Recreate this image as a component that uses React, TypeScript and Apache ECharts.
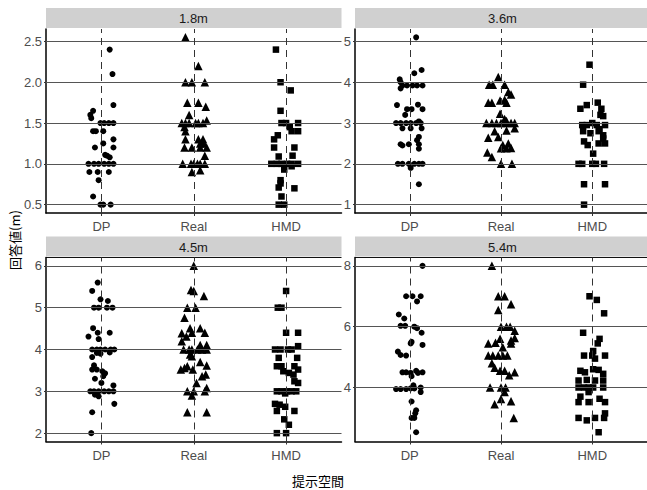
import React, { useEffect, useRef } from 'react';
import * as echarts from 'echarts';

// Categories, facet titles, tick values
const categories = ['DP', 'Real', 'HMD'];
const panelTitles = ['1.8m', '3.6m', '4.5m', '5.4m'];
const yTicks = [
  [0.5, 1.0, 1.5, 2.0, 2.5],
  [1, 2, 3, 4, 5],
  [2, 3, 4, 5, 6],
  [4, 6, 8],
];
const yRanges = [
  [0.3975, 2.6525],
  [0.795, 5.305],
  [1.8, 6.2],
  [2.225, 8.275],
];

// Data: [jitter offset (category units), response value]
const d18DP = [[0.09,2.4],[0.12,2.1],[0.13,1.72],[-0.09,1.65],[-0.12,1.6],[-0.11,1.56],[-0.01,1.5],[0.03,1.5],[0.08,1.5],[0.13,1.5],[-0.09,1.4],[-0.06,1.4],[0.02,1.4],[0.13,1.3],[0.02,1.25],[-0.07,1.2],[0.13,1.2],[0.04,1.11],[0.06,1.1],[0.09,1.08],[-0.14,1.0],[-0.08,1.0],[-0.03,1.0],[0.03,1.0],[0.08,1.0],[0.13,1.0],[-0.13,0.9],[-0.04,0.9],[0.08,0.9],[-0.03,0.8],[-0.09,0.6],[-0.01,0.5],[0.02,0.5],[0.1,0.5]];
const d18Real = [[-0.09,2.55],[0.05,2.2],[-0.09,2.0],[-0.02,2.0],[0.12,2.0],[-0.07,1.75],[0.05,1.75],[0.13,1.7],[-0.05,1.6],[-0.13,1.5],[-0.09,1.5],[-0.05,1.5],[0.02,1.5],[0.05,1.5],[0.1,1.5],[0.14,1.53],[-0.1,1.45],[-0.09,1.4],[-0.09,1.3],[0.05,1.3],[0.1,1.3],[0.07,1.25],[0.11,1.25],[-0.1,1.2],[-0.02,1.2],[0.07,1.2],[0.14,1.2],[0.12,1.1],[-0.12,1.0],[-0.03,1.0],[0.0,1.0],[0.04,1.0],[0.07,1.0],[0.12,1.0],[-0.02,0.9],[0.07,0.92]];
const d18HMD = [[-0.11,2.4],[-0.06,2.0],[0.05,1.9],[-0.06,1.65],[-0.05,1.5],[0.0,1.5],[0.13,1.5],[0.04,1.45],[0.06,1.4],[0.13,1.4],[-0.09,1.35],[-0.13,1.3],[-0.13,1.2],[0.09,1.2],[-0.08,1.09],[0.07,1.1],[-0.16,1.0],[-0.1,1.0],[-0.05,1.0],[0.01,1.0],[0.06,1.0],[0.13,1.0],[-0.02,0.93],[0.06,0.97],[-0.06,0.8],[-0.06,0.76],[-0.08,0.71],[0.09,0.7],[-0.05,0.6],[-0.08,0.5],[-0.02,0.5]];

const d36DP = [[0.07,5.1],[0.13,4.3],[0.05,4.22],[-0.11,4.07],[-0.1,4.0],[-0.08,3.92],[-0.03,3.92],[0.03,3.92],[0.08,3.92],[0.14,3.92],[-0.1,3.85],[-0.14,3.44],[0.09,3.45],[-0.03,3.34],[0.02,3.34],[0.14,3.34],[-0.05,3.2],[-0.15,3.0],[-0.1,3.0],[-0.04,3.0],[0.01,3.0],[0.07,3.0],[0.12,3.0],[0.1,3.04],[-0.08,2.87],[0.01,2.87],[0.13,2.87],[0.1,2.66],[0.08,2.58],[-0.1,2.48],[-0.01,2.48],[0.1,2.48],[-0.08,2.45],[0.1,2.37],[-0.13,2.0],[-0.08,2.0],[-0.01,2.0],[0.05,2.0],[0.1,2.0],[0.14,2.0],[0.01,1.9],[0.1,1.5]];
const d36Real = [[-0.03,4.13],[-0.13,3.94],[-0.09,3.94],[0.04,3.94],[0.08,3.76],[0.11,3.7],[-0.14,3.5],[-0.1,3.5],[-0.01,3.55],[0.04,3.57],[0.06,3.5],[-0.01,3.23],[0.04,3.1],[0.06,3.05],[-0.16,3.0],[-0.1,3.0],[-0.05,3.0],[0.0,3.0],[0.06,3.0],[0.11,3.0],[0.15,3.0],[-0.14,2.64],[-0.07,2.8],[-0.03,2.66],[0.06,2.82],[0.15,2.87],[0.02,2.46],[0.08,2.5],[0.11,2.39],[0.0,2.38],[0.06,2.38],[-0.15,2.28],[-0.1,2.17],[0.0,2.0],[0.12,2.0]];
const d36HMD = [[-0.03,4.43],[-0.1,3.94],[-0.13,3.35],[-0.06,3.44],[0.06,3.5],[0.1,3.35],[0.12,3.17],[0.09,3.2],[-0.11,2.95],[-0.06,2.95],[0.05,2.95],[0.14,2.95],[0.0,3.0],[-0.1,2.8],[0.07,2.8],[0.08,2.85],[-0.02,2.75],[0.12,2.7],[0.12,2.62],[-0.09,2.55],[-0.05,2.46],[0.07,2.5],[0.14,2.5],[0.01,2.25],[-0.15,2.0],[-0.11,2.0],[0.0,2.0],[0.04,2.0],[0.13,2.0],[-0.09,1.5],[0.14,1.5],[-0.09,1.0]];

const d45DP = [[-0.04,5.6],[-0.1,5.4],[-0.01,5.2],[0.07,5.16],[-0.08,5.0],[-0.03,5.0],[0.06,5.0],[0.12,5.0],[-0.09,4.51],[-0.04,4.4],[0.09,4.4],[-0.14,4.31],[-0.03,4.25],[-0.1,4.0],[-0.05,4.0],[-0.01,4.0],[0.04,4.0],[0.1,4.0],[0.14,4.0],[-0.05,3.92],[-0.01,3.9],[0.09,3.93],[-0.1,3.82],[-0.08,3.62],[-0.1,3.52],[-0.05,3.52],[0.01,3.48],[0.04,3.43],[0.02,3.36],[-0.07,3.3],[0.0,3.2],[0.13,3.14],[-0.12,3.0],[-0.08,3.0],[-0.03,3.0],[0.03,3.0],[0.08,3.0],[0.13,3.0],[-0.07,2.92],[-0.03,2.88],[0.14,2.7],[-0.1,2.5],[-0.11,2.0]];
const d45Real = [[0.0,6.0],[-0.03,5.42],[0.0,5.4],[0.11,5.28],[-0.07,5.0],[0.02,5.0],[-0.1,4.76],[-0.04,4.51],[0.07,4.51],[-0.13,4.39],[-0.08,4.31],[-0.13,4.2],[-0.02,4.4],[0.12,4.4],[-0.11,4.0],[-0.05,4.0],[-0.02,4.0],[0.04,4.0],[0.09,4.0],[0.14,4.0],[0.07,4.11],[0.14,4.11],[-0.04,3.88],[-0.02,3.84],[0.07,3.7],[-0.14,3.52],[-0.1,3.56],[-0.07,3.6],[-0.01,3.52],[0.14,3.62],[0.13,3.4],[0.09,3.36],[0.03,3.2],[-0.07,3.0],[0.0,3.0],[0.12,3.0],[0.14,3.08],[-0.02,2.9],[-0.07,2.5],[0.14,2.5]];
const d45HMD = [[0.0,5.4],[-0.09,5.0],[-0.05,5.0],[0.0,4.4],[0.13,4.4],[-0.12,4.0],[-0.06,4.0],[0.02,4.0],[0.06,4.0],[0.13,4.08],[-0.08,3.8],[0.12,3.8],[-0.1,3.6],[-0.05,3.6],[0.09,3.6],[0.13,3.52],[-0.03,3.48],[0.03,3.44],[0.08,3.4],[0.09,3.24],[0.13,3.2],[-0.1,3.0],[-0.05,3.0],[0.01,3.0],[0.06,3.0],[0.11,3.0],[-0.01,2.95],[-0.12,2.7],[-0.07,2.68],[-0.01,2.63],[-0.1,2.53],[0.09,2.53],[-0.02,2.33],[0.03,2.2],[-0.1,2.0],[0.0,2.0]];

const d54DP = [[0.14,8.0],[-0.04,7.0],[0.03,7.0],[0.12,7.0],[0.08,6.83],[-0.12,6.4],[-0.06,6.27],[-0.1,6.03],[-0.05,6.03],[0.05,6.0],[0.08,5.95],[0.13,5.8],[0.01,5.45],[0.02,5.5],[0.14,5.4],[-0.13,5.18],[-0.1,5.07],[-0.04,5.05],[-0.08,4.5],[-0.04,4.5],[0.01,4.48],[0.07,4.55],[0.09,4.48],[0.14,4.5],[0.02,4.37],[-0.15,3.95],[-0.1,3.95],[-0.04,3.95],[0.01,3.97],[0.05,3.97],[0.04,4.07],[0.12,4.0],[0.12,3.85],[0.02,3.54],[0.07,3.25],[0.06,3.15],[0.05,3.0],[0.02,3.0],[0.07,2.53]];
const d54Real = [[-0.1,8.0],[-0.03,7.0],[0.04,7.0],[0.11,6.74],[-0.03,6.55],[0.0,6.0],[0.06,6.0],[0.1,6.0],[0.15,5.87],[-0.01,5.6],[0.11,5.55],[0.15,5.63],[-0.14,5.45],[-0.06,5.47],[0.02,5.32],[0.11,5.45],[-0.14,5.05],[-0.09,5.05],[-0.03,5.05],[0.02,5.05],[0.07,5.05],[-0.1,4.8],[-0.07,4.65],[-0.01,4.55],[0.04,4.55],[0.09,4.4],[0.15,4.5],[-0.12,4.0],[0.0,4.0],[0.05,4.0],[0.04,3.85],[0.0,3.62],[0.11,3.55],[-0.07,3.45],[0.14,3.0]];
const d54HMD = [[-0.03,7.0],[0.05,6.88],[0.13,6.44],[-0.1,5.8],[0.08,5.6],[0.06,5.45],[-0.09,5.05],[0.0,5.05],[0.14,5.05],[0.01,5.2],[0.03,4.95],[-0.13,4.55],[-0.08,4.5],[0.01,4.6],[0.07,4.58],[0.12,4.45],[-0.15,4.23],[-0.06,4.25],[0.03,4.23],[0.12,4.23],[-0.15,4.0],[-0.09,4.0],[-0.04,4.0],[0.01,4.0],[0.12,4.0],[-0.04,3.85],[-0.13,3.7],[0.08,3.63],[0.14,3.52],[-0.15,3.52],[-0.04,3.52],[-0.15,3.0],[-0.06,2.92],[0.03,3.0],[0.13,3.0],[0.14,3.15],[0.07,2.53]];

const panelData = [
  [d18DP, d18Real, d18HMD],
  [d36DP, d36Real, d36HMD],
  [d45DP, d45Real, d45HMD],
  [d54DP, d54Real, d54HMD],
];

const symbols = ['circle', 'triangle', 'rect'];
const symbolSizes = [6, 8.5, 6.5];

const FONT = '"Liberation Sans", Arial, sans-serif';
const CJK = '"Noto Sans CJK JP", sans-serif';

export default function App() {
  const ref = useRef<HTMLDivElement>(null);
  useEffect(() => {
    const chart = echarts.init(ref.current!, null, { renderer: 'svg' });
    const lefts = [46, 355, 46, 355];
    const tops = [29, 29, 257.5, 257.5];
    const W = 295.5;
    const H = 184;

    const grids = lefts.map((l, i) => ({ left: l, top: tops[i], width: W, height: H, containLabel: false }));
    const xAxes = lefts.map((_, i) => ({
      type: 'value', gridIndex: i, min: 0.4, max: 3.6,
      splitLine: { show: false },
      axisLine: { show: true, lineStyle: { color: '#000', width: 1.5 } },
      axisTick: { show: true, customValues: [1, 2, 3], length: 3, lineStyle: { color: '#333' } },
      axisLabel: {
        customValues: [1, 2, 3], margin: 7,
        formatter: (v: number) => categories[Math.round(v) - 1] ?? '',
        color: '#4d4d4d', fontSize: 13, fontFamily: FONT,
      },
    }));
    const yAxes = lefts.map((_, i) => ({
      type: 'value', gridIndex: i, min: yRanges[i][0], max: yRanges[i][1],
      splitLine: { show: false },
      axisLine: { show: true, lineStyle: { color: '#000', width: 1.5 } },
      axisTick: { show: true, customValues: yTicks[i], length: 2, lineStyle: { color: '#333' } },
      axisLabel: {
        customValues: yTicks[i], margin: 4,
        formatter: (v: number) => (i === 0 ? v.toFixed(1) : String(v)),
        color: '#4d4d4d', fontSize: 13, fontFamily: FONT,
      },
    }));

    const series: any[] = [];
    panelData.forEach((groups, p) => {
      series.push({
        type: 'scatter', xAxisIndex: p, yAxisIndex: p, data: [], silent: true, z: 1,
        markLine: {
          silent: true, symbol: ['none', 'none'], label: { show: false }, animation: false,
          lineStyle: { color: '#555', width: 1, type: 'solid' },
          data: yTicks[p].map((v) => ({ yAxis: v })),
        },
      });
      series.push({
        type: 'scatter', xAxisIndex: p, yAxisIndex: p, data: [], silent: true, z: 1,
        markLine: {
          silent: true, symbol: ['none', 'none'], label: { show: false }, animation: false,
          lineStyle: { color: '#333', width: 1, type: [7, 5] },
          data: categories.map((_, c) => ({ xAxis: c + 1 })),
        },
      });
      groups.forEach((pts, c) => {
        series.push({
          type: 'scatter', xAxisIndex: p, yAxisIndex: p, z: 3, silent: true,
          symbol: symbols[c], symbolSize: symbolSizes[c],
          itemStyle: { color: '#000', opacity: 1 },
          data: pts.map(([dx, v]) => [c + 1 + dx, v]),
        });
      });
    });

    const graphic: any[] = [];
    panelTitles.forEach((t, i) => {
      const sy = i < 2 ? 8 : 236.5;
      graphic.push({ type: 'rect', shape: { x: lefts[i], y: sy, width: W, height: 20 }, style: { fill: '#d0d0d0' }, silent: true });
      graphic.push({ type: 'text', x: lefts[i] + 147.5, y: sy + 10.5, style: { text: t, fill: '#1a1a1a', font: `13px ${FONT}`, align: 'center', verticalAlign: 'middle' }, silent: true });
    });
    graphic.push({ type: 'line', shape: { x1: 46, y1: 257.5, x2: 341.5, y2: 257.5 }, style: { stroke: '#111', lineWidth: 1 }, silent: true });
    graphic.push({ type: 'line', shape: { x1: 355, y1: 257.5, x2: 647, y2: 257.5 }, style: { stroke: '#111', lineWidth: 1 }, silent: true });
    graphic.push({ type: 'text', x: 14, y: 240, rotation: Math.PI / 2, style: { text: '回答値(m)', fill: '#000', font: `13px ${CJK}`, align: 'center', verticalAlign: 'middle' }, silent: true });
    graphic.push({ type: 'text', x: 318, y: 480, style: { text: '提示空間', fill: '#000', font: `13px ${CJK}`, align: 'center', verticalAlign: 'middle' }, silent: true });

    chart.setOption({
      animation: false,
      backgroundColor: '#fff',
      grid: grids,
      xAxis: xAxes,
      yAxis: yAxes,
      series,
      graphic,
    });
    return () => chart.dispose();
  }, []);
  return <div ref={ref} style={{ position: 'absolute', left: 0, top: 0, width: 647, height: 490, background: '#fff' }} />;
}
